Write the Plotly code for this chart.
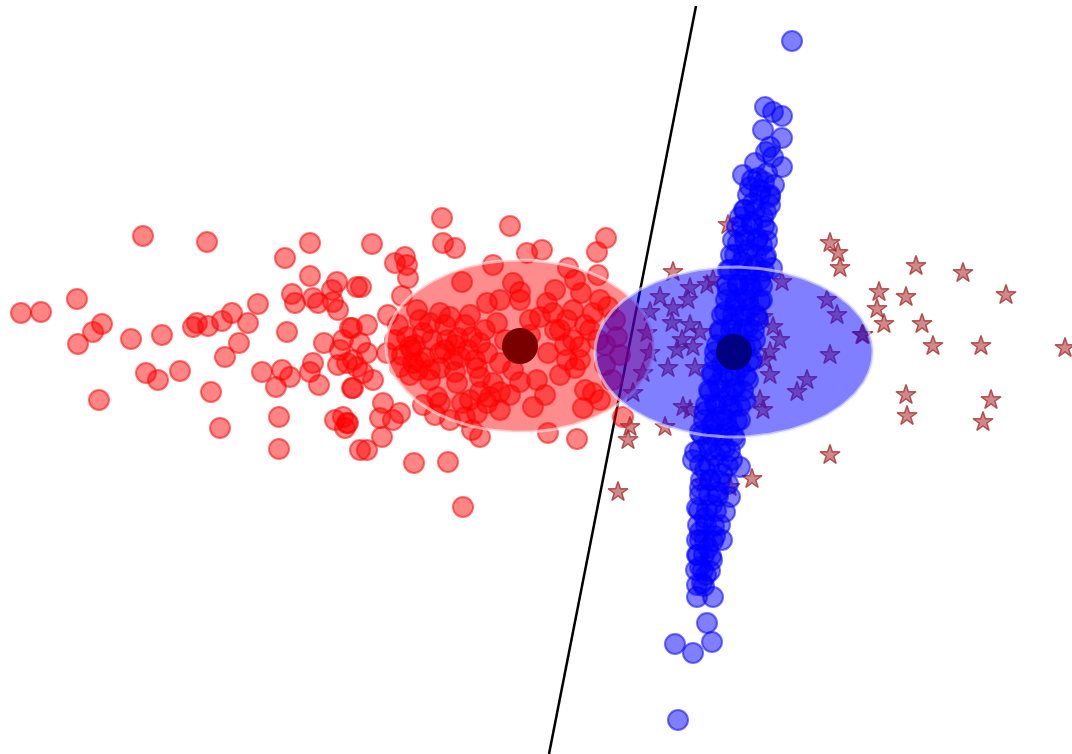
import numpy as np
import plotly.graph_objects as go

# Class A samples (red circles)
red_pts = [
    (143, 236), (207, 242), (285, 258), (310, 243), (77, 299), (21, 313), (41, 312),
    (102, 324), (93, 332), (78, 344), (131, 339), (162, 335), (197, 323), (193, 327),
    (208, 326), (222, 321), (232, 313), (258, 304), (248, 323), (239, 343), (225, 357),
    (146, 373), (158, 380), (180, 371), (211, 392), (99, 400), (220, 428), (262, 372),
    (282, 370), (276, 387), (290, 377), (319, 385), (313, 363), (310, 372), (287, 332),
    (324, 343), (279, 417), (279, 449), (335, 420), (345, 428), (348, 423), (310, 276),
    (292, 294), (295, 303), (313, 298), (318, 303), (337, 282), (332, 290), (333, 302),
    (338, 310), (350, 328), (340, 350), (338, 365), (352, 388), (353, 360), (357, 287),
    (360, 450), (442, 218), (510, 226), (372, 244), (443, 243), (455, 248), (395, 263),
    (405, 257), (407, 265), (408, 278), (361, 287), (402, 296), (527, 253), (542, 250),
    (606, 238), (597, 252), (493, 265), (568, 268), (598, 275), (513, 283), (520, 292),
    (462, 282), (581, 293), (487, 303), (500, 300), (547, 303), (388, 315), (367, 325),
    (352, 328), (417, 310), (440, 313), (450, 317), (497, 323), (465, 325), (540, 317),
    (553, 313), (567, 320), (573, 310), (593, 313), (608, 307), (430, 323), (423, 333),
    (407, 337), (410, 347), (472, 337), (480, 343), (447, 340), (440, 353), (487, 353),
    (560, 330), (573, 340), (580, 347), (548, 353), (567, 360), (575, 368), (360, 343),
    (367, 353), (343, 340), (387, 353), (413, 363), (418, 370), (400, 367), (430, 370),
    (440, 368), (453, 360), (460, 357), (477, 368), (480, 377), (500, 363), (513, 370),
    (537, 380), (520, 382), (493, 383), (500, 392), (457, 383), (480, 392), (490, 397),
    (347, 363), (357, 367), (363, 373), (353, 388), (373, 380), (383, 403), (380, 418),
    (393, 420), (400, 413), (347, 423), (343, 417), (382, 437), (423, 405), (437, 397),
    (440, 403), (462, 403), (465, 417), (477, 413), (487, 403), (450, 420), (472, 430),
    (480, 437), (533, 407), (585, 390), (593, 393), (600, 400), (583, 408), (548, 433),
    (577, 439), (367, 450), (414, 463), (448, 462), (463, 507), (623, 417), (617, 337),
    (412, 350), (425, 358), (455, 345), (530, 335), (590, 330), (605, 345), (612, 380),
    (395, 340), (402, 355), (415, 345), (420, 362), (432, 340), (445, 350), (458, 338),
    (468, 350), (475, 360), (455, 372), (430, 380), (410, 375), (398, 325), (420, 320),
    (445, 325), (470, 315), (485, 330), (505, 340), (530, 320), (555, 330), (565, 345),
    (585, 325), (598, 340), (580, 360), (560, 375), (545, 395), (510, 395), (470, 400),
    (500, 410), (435, 415), (520, 300), (555, 290), (575, 280), (600, 300), (615, 320),
    (620, 355), (605, 365),
]

# Class B samples (blue circles)
blue_pts = [
    (792, 41), (765, 107), (773, 112), (782, 116), (763, 130), (782, 138), (770, 147),
    (773, 157), (766, 152), (755, 163), (782, 167), (767, 173), (743, 175), (758, 178),
    (750, 187), (760, 190), (770, 195), (753, 203), (770, 205), (745, 210), (740, 217),
    (763, 217), (752, 222), (737, 227), (767, 230), (745, 235), (758, 238), (738, 243),
    (762, 245), (748, 250), (735, 255), (765, 258), (742, 262), (755, 265), (772, 268),
    (730, 270), (748, 275), (760, 280), (738, 284), (752, 288), (728, 292), (745, 296),
    (762, 300), (735, 305), (750, 308), (725, 312), (742, 316), (758, 320), (732, 324),
    (748, 328), (720, 332), (738, 336), (755, 340), (728, 344), (745, 348), (715, 352),
    (735, 356), (752, 360), (722, 364), (740, 368), (712, 372), (730, 376), (748, 380),
    (718, 384), (735, 388), (710, 392), (728, 396), (745, 400), (715, 404), (732, 408),
    (705, 412), (722, 416), (740, 420), (712, 424), (728, 428), (700, 432), (718, 436),
    (735, 440), (708, 444), (725, 448), (695, 452), (715, 456), (732, 460), (693, 460),
    (740, 467), (705, 470), (722, 474), (710, 480), (728, 484), (700, 488), (718, 492),
    (730, 497), (697, 508), (712, 505), (725, 512), (705, 518), (720, 525), (700, 532),
    (715, 536), (700, 540), (722, 540), (708, 548), (698, 555), (712, 560), (700, 567),
    (706, 575), (702, 583), (697, 597), (713, 597), (707, 623), (712, 642), (675, 644),
    (693, 653), (678, 720),
    (752, 180), (764, 182), (774, 185), (748, 195), (760, 195), (770, 197),
    (744, 210), (755, 210), (766, 212), (742, 225), (752, 225), (764, 226),
    (733, 240), (745, 240), (757, 240), (767, 241), (731, 255), (744, 255),
    (756, 255), (766, 256), (728, 270), (740, 270), (752, 270), (764, 271),
    (727, 285), (738, 285), (750, 285), (762, 286), (726, 300), (736, 300),
    (748, 300), (760, 301), (722, 315), (733, 315), (745, 315), (757, 316),
    (720, 330), (731, 330), (743, 330), (754, 331), (717, 345), (728, 345),
    (740, 345), (751, 346), (715, 360), (726, 360), (738, 360), (749, 361),
    (712, 375), (723, 375), (735, 375), (746, 376), (709, 390), (720, 390),
    (732, 390), (743, 391), (706, 405), (717, 405), (729, 405), (740, 406),
    (704, 420), (715, 420), (726, 420), (737, 421), (702, 435), (712, 435),
    (723, 435), (734, 436), (700, 450), (710, 450), (720, 450), (730, 451),
    (700, 465), (709, 465), (719, 465), (728, 466), (701, 480), (710, 480),
    (720, 481), (700, 495), (709, 495), (718, 496), (699, 510), (707, 510),
    (716, 511), (698, 525), (706, 525), (714, 526), (697, 540), (705, 540),
    (713, 541), (697, 555), (704, 555), (711, 556), (696, 570), (703, 570),
    (710, 571), (697, 585), (704, 586),
]

# Class C samples (brown stars)
star_pts = [
    (916, 266), (963, 273), (879, 292), (906, 297), (1006, 295), (877, 309), (884, 324),
    (922, 324), (933, 346), (981, 346), (1065, 348), (863, 335), (906, 395), (907, 416),
    (991, 400), (983, 422), (728, 225), (830, 243), (838, 253), (840, 268), (673, 272),
    (660, 297), (690, 288), (688, 300), (707, 285), (713, 280), (673, 308), (672, 323),
    (690, 325), (700, 332), (682, 340), (677, 350), (693, 347), (668, 368), (695, 368),
    (650, 312), (647, 333), (650, 353), (643, 373), (633, 393), (773, 327), (780, 340),
    (770, 352), (765, 360), (770, 375), (782, 282), (763, 317), (827, 300), (837, 315),
    (862, 335), (830, 355), (807, 380), (797, 392), (760, 400), (763, 410), (683, 407),
    (690, 410), (665, 427), (630, 427), (628, 440), (830, 455), (752, 479), (618, 492),
    (703, 483), (730, 487),
]

# Separating line end points
line_x = [696, 549]
line_y = [6, 754]

# Class means and spread (centre x, centre y, half-width, half-height)
red_mean = (520, 346)
red_spread = (134, 86)
blue_mean = (734, 352)
blue_spread = (139, 85)


def unzip(pts):
    return [p[0] for p in pts], [p[1] for p in pts]


def ellipse(center, spread, n=200):
    t = np.linspace(0, 2 * np.pi, n)
    return center[0] + spread[0] * np.cos(t), center[1] + spread[1] * np.sin(t)


fig = go.Figure()

fig.add_trace(go.Scatter(x=line_x, y=line_y, mode="lines",
                         line=dict(color="black", width=2.5), hoverinfo="skip"))

rx, ry = unzip(red_pts)
fig.add_trace(go.Scatter(x=rx, y=ry, mode="markers",
                         marker=dict(size=20, color="rgba(255,0,0,0.48)",
                                     line=dict(color="rgba(255,0,0,0.55)", width=2))))

sx, sy = unzip(star_pts)
fig.add_trace(go.Scatter(x=sx, y=sy, mode="markers",
                         marker=dict(symbol="star", size=15, color="rgba(170,40,40,0.55)",
                                     line=dict(color="rgba(165,42,42,0.75)", width=1.5))))

bx, by = unzip(blue_pts)
fig.add_trace(go.Scatter(x=bx, y=by, mode="markers",
                         marker=dict(size=20, color="rgba(0,0,255,0.5)",
                                     line=dict(color="rgba(0,0,255,0.55)", width=2))))

ex, ey = ellipse(red_mean, red_spread)
fig.add_trace(go.Scatter(x=ex, y=ey, mode="lines", fill="toself",
                         fillcolor="rgba(255,0,0,0.45)",
                         line=dict(color="rgba(255,235,235,0.6)", width=3), hoverinfo="skip"))

ex, ey = ellipse(blue_mean, blue_spread)
fig.add_trace(go.Scatter(x=ex, y=ey, mode="lines", fill="toself",
                         fillcolor="rgba(0,0,255,0.5)",
                         line=dict(color="rgba(235,235,255,0.6)", width=3), hoverinfo="skip"))

fig.add_trace(go.Scatter(x=[red_mean[0]], y=[red_mean[1]], mode="markers",
                         marker=dict(size=36, color="#7a0000", line=dict(width=0))))
fig.add_trace(go.Scatter(x=[blue_mean[0]], y=[blue_mean[1]], mode="markers",
                         marker=dict(size=36, color="#000080", line=dict(width=0))))

fig.update_layout(
    width=1072, height=754,
    margin=dict(l=0, r=0, t=0, b=0),
    paper_bgcolor="white", plot_bgcolor="white",
    showlegend=False,
    xaxis=dict(range=[0, 1072], visible=False, fixedrange=True),
    yaxis=dict(range=[754, 0], visible=False, fixedrange=True),
)

fig.write_html("out.html")
